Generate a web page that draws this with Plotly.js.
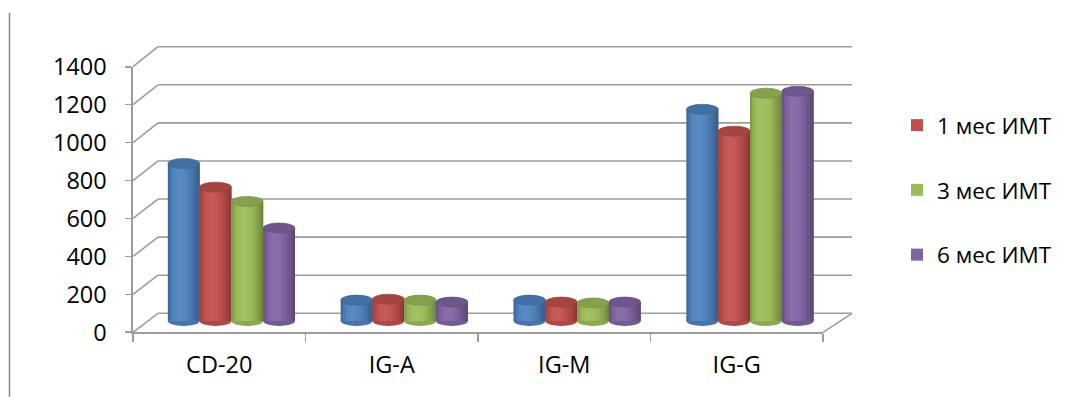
<!DOCTYPE html>
<html>
<head>
<meta charset="utf-8">
<script src="https://cdn.plot.ly/plotly-3.0.1.min.js"></script>
<style>
  html, body { margin: 0; padding: 0; background: #ffffff; }
  #chart { width: 1081px; height: 397px; }
</style>
</head>
<body>
<div id="chart"></div>
<script>
// ---------------- data ----------------
const categories = ['CD-20', 'IG-A', 'IG-M', 'IG-G'];
const seriesNames = ['до ИМТ', '1 мес ИМТ', '3 мес ИМТ', '6 мес ИМТ'];
const seriesInLegend = [false, true, true, true];
const valuesBefore = [830, 110, 110, 1115];
const values1m = [705, 115, 100, 1000];
const values3m = [630, 110, 95, 1200];
const values6m = [490, 100, 100, 1210];
const yTickValues = [0, 200, 400, 600, 800, 1000, 1200, 1400];

const seriesValues = [valuesBefore, values1m, values3m, values6m];
const seriesColors = ['#4F81BD', '#C0504D', '#9BBB59', '#8064A2'];

// ---------------- geometry (pixels of the 1081x397 canvas) ----------------
const W = 1081, H = 397;
const FONT = '"Open Sans", "Noto Sans", sans-serif';
const GRID = '#9c9c9c';

// front plane (axis labels)
const front = { x0: 133, x1: 823, p0: 332.3, s: 265.6 / 1400 };
// back wall (gridlines)
const back = { x0: 158, x1: 852, p0: 313.3, s: 266.6 / 1400 };
// middle depth (cylinders)
const mid = { x0: 145, x1: 836.5, p0: 321, s: 265.8 / 1400 };

function xdom(pl) { return [pl.x0 / W, pl.x1 / W]; }
function ydom(pl, a, b) { return [(H - (pl.p0 - a * pl.s)) / H, (H - (pl.p0 - b * pl.s)) / H]; }
function px(x) { return x / W; }
function py(p) { return (H - p) / H; }

function shade(hex, f) {
  const n = parseInt(hex.slice(1), 16);
  let r = (n >> 16) & 255, g = (n >> 8) & 255, b = n & 255;
  const adj = c => {
    let v = f <= 1 ? c * f : c + (255 - c) * (f - 1) * 0.9;
    return Math.max(0, Math.min(255, Math.round(v)));
  };
  return 'rgb(' + adj(r) + ',' + adj(g) + ',' + adj(b) + ')';
}
function cylShade(t) {
  return 0.74 + 0.36 * Math.sin(Math.PI * Math.pow(t, 0.75)) - 0.05 * t;
}

// ---------------- traces ----------------
const traces = [];

// category labels on the front axis
traces.push({
  type: 'scatter', mode: 'markers', x: categories, y: categories.map(() => 0),
  xaxis: 'x', yaxis: 'y', marker: { opacity: 0 }, hoverinfo: 'skip', showlegend: false
});
// back wall subplot
traces.push({
  type: 'scatter', mode: 'markers', x: [0.5], y: [0],
  xaxis: 'x2', yaxis: 'y2', marker: { opacity: 0 }, hoverinfo: 'skip', showlegend: false
});

const groupW = 0.735;
const barW = groupW / 4;
const groupStart = -groupW / 2;
const nStrips = 14;
const ellipseHalf = 5 / mid.s;   // data units
const shapes = [];

// back wall gridlines (value lines on the back plane)
yTickValues.forEach(v => {
  shapes.push({
    type: 'line', xref: 'x2 domain', yref: 'y2', layer: 'below',
    x0: 0, x1: 1, y0: v, y1: v,
    line: { color: GRID, width: 1.6 }
  });
});

seriesValues.forEach((vals, k) => {
  const off = groupStart + k * barW;
  const base = seriesColors[k];
  // full bar (carries legend entry)
  traces.push({
    type: 'bar', x: categories, y: vals, name: seriesNames[k],
    xaxis: 'x3', yaxis: 'y3', offset: off, width: barW,
    marker: { color: base, line: { width: 0 } },
    showlegend: seriesInLegend[k], legendgroup: 'g' + k,
    hoverinfo: 'x+y+name'
  });
  // cylinder shading strips
  const sw = barW / nStrips;
  for (let j = 0; j < nStrips; j++) {
    const t = (j + 0.5) / nStrips;
    traces.push({
      type: 'bar', x: categories, y: vals, name: seriesNames[k],
      xaxis: 'x3', yaxis: 'y3', offset: off + j * sw, width: sw * 1.02,
      marker: { color: shade(base, cylShade(t)), line: { width: 0 } },
      showlegend: false, legendgroup: 'g' + k, hoverinfo: 'skip'
    });
  }
  // bottom and top ellipses
  vals.forEach((v, i) => {
    shapes.push({
      type: 'circle', xref: 'x3', yref: 'y3', layer: 'below',
      x0: i + off, x1: i + off + barW, y0: -ellipseHalf, y1: ellipseHalf,
      fillcolor: shade(base, 0.9), line: { width: 0 }
    });
    shapes.push({
      type: 'circle', xref: 'x3', yref: 'y3', layer: 'above',
      x0: i + off, x1: i + off + barW, y0: v - ellipseHalf, y1: v + ellipseHalf,
      fillcolor: shade(base, 0.86), line: { width: 0.6, color: shade(base, 0.74) }
    });
  });
});

// perspective connectors: front tick -> back gridline
yTickValues.forEach(v => {
  shapes.push({
    type: 'line', xref: 'paper', yref: 'paper', layer: 'below',
    x0: px(front.x0), y0: py(front.p0 - v * front.s),
    x1: px(back.x0), y1: py(back.p0 - v * back.s),
    line: { color: GRID, width: 1.6 }
  });
});
// right floor edge
shapes.push({
  type: 'line', xref: 'paper', yref: 'paper', layer: 'below',
  x0: px(front.x1), y0: py(front.p0), x1: px(back.x1), y1: py(back.p0),
  line: { color: GRID, width: 1.6 }
});
// left frame line of the picture
shapes.push({
  type: 'line', xref: 'paper', yref: 'paper', layer: 'below',
  x0: px(9.5), y0: py(12.7), x1: px(9.5), y1: 0,
  line: { color: '#8a8a8a', width: 1.5 }
});

// ---------------- layout ----------------
const layout = {
  width: W, height: H, autosize: false,
  margin: { l: 0, r: 0, t: 0, b: 0, pad: 0 },
  paper_bgcolor: '#ffffff', plot_bgcolor: 'rgba(0,0,0,0)',
  font: { family: FONT, color: '#000000' },
  barmode: 'overlay',
  showlegend: true,
  legend: {
    x: 897 / W, y: py(104), xanchor: 'left', yanchor: 'top',
    font: { family: FONT, size: 22.5, color: '#000000' },
    traceorder: 'grouped', tracegroupgap: 32.5, itemwidth: 30,
    bgcolor: 'rgba(0,0,0,0)', borderwidth: 0
  },
  xaxis: {
    domain: xdom(front), anchor: 'y', type: 'category', range: [-0.5, 3.5],
    showline: true, linecolor: GRID, linewidth: 1.6,
    ticks: 'outside', tickson: 'boundaries', ticklen: 8, tickcolor: GRID, tickwidth: 1.6,
    tickfont: { family: FONT, size: 23.5, color: '#000000' }, ticklabelstandoff: 11,
    showgrid: false, zeroline: false, automargin: false, fixedrange: true
  },
  yaxis: {
    domain: ydom(front, 0, 1400), anchor: 'x', range: [0, 1400],
    tickmode: 'array', tickvals: yTickValues, ticktext: yTickValues.map(String),
    showline: true, linecolor: GRID, linewidth: 1.6,
    ticks: 'outside', ticklen: 6, tickcolor: GRID, tickwidth: 1.6,
    tickfont: { family: FONT, size: 23.5, color: '#000000' }, ticklabelstandoff: 14,
    showgrid: false, zeroline: false, automargin: false, fixedrange: true
  },
  xaxis2: {
    domain: xdom(back), anchor: 'y2', range: [0, 1],
    showline: false, showgrid: false, zeroline: false, showticklabels: false, ticks: '',
    automargin: false, fixedrange: true
  },
  yaxis2: {
    domain: ydom(back, -5, 1405), anchor: 'x2', range: [-5, 1405],
    showgrid: false, showline: false, zeroline: false, showticklabels: false, ticks: '',
    automargin: false, fixedrange: true
  },
  xaxis3: {
    domain: xdom(mid), anchor: 'y3', type: 'category', range: [-0.5, 3.5],
    visible: false, automargin: false, fixedrange: true
  },
  yaxis3: {
    domain: ydom(mid, -60, 1460), anchor: 'x3', range: [-60, 1460],
    visible: false, automargin: false, fixedrange: true
  },
  shapes: shapes
};

Plotly.newPlot('chart', traces, layout, { displayModeBar: false, staticPlot: true });
</script>
</body>
</html>
